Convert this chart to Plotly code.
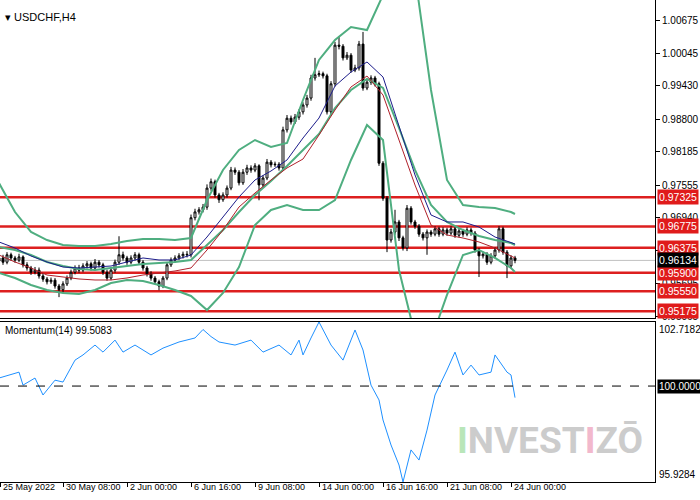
import plotly.graph_objects as go

# USDCHF H4 - bougies (index de barre 0 = 25 May 16:00)
opens = [0.9612, 0.9618, 0.9610, 0.9624, 0.9618, 0.9614, 0.9620, 0.9605, 0.9599, 0.9591,
         0.9595, 0.9584, 0.9578, 0.9573, 0.9576, 0.9565, 0.9558, 0.9569, 0.9580, 0.9591,
         0.9599, 0.9595, 0.9603, 0.9607, 0.9599, 0.9610, 0.9605, 0.9591, 0.9580, 0.9595,
         0.9610, 0.9624, 0.9618, 0.9610, 0.9618, 0.9624, 0.9610, 0.9599, 0.9588, 0.9580,
         0.9573, 0.9565, 0.9580, 0.9605, 0.9614, 0.9618, 0.9622, 0.9625, 0.9624, 0.9694,
         0.9705, 0.9709, 0.9714, 0.9750, 0.9762, 0.9737, 0.9728, 0.9737, 0.9750, 0.9784,
         0.9780, 0.9760, 0.9780, 0.9788, 0.9784, 0.9792, 0.9756, 0.9769, 0.9799, 0.9794,
         0.9795, 0.9788, 0.9860, 0.9882, 0.9875, 0.9884, 0.9894, 0.9907, 0.9920, 0.9958,
         0.9964, 0.9966, 0.9962, 0.9894, 0.9947, 1.0020, 1.0018, 0.9996, 1.0001, 0.9973,
         0.9977, 1.0022, 0.9939, 0.9950, 0.9958, 0.9947, 0.9797, 0.9731, 0.9652, 0.9667,
         0.9686, 0.9656, 0.9637, 0.9712, 0.9686, 0.9678, 0.9663, 0.9656, 0.9667, 0.9663,
         0.9673, 0.9663, 0.9671, 0.9665, 0.9673, 0.9661, 0.9669, 0.9663, 0.9671, 0.9665,
         0.9633, 0.9622, 0.9625, 0.9610, 0.9622, 0.9633, 0.9673, 0.9629, 0.9603, 0.9618]
highs = [0.9623, 0.9624, 0.9629, 0.9628, 0.9622, 0.9626, 0.9623, 0.9610, 0.9603, 0.9601,
         0.9600, 0.9589, 0.9582, 0.9581, 0.9580, 0.9569, 0.9574, 0.9585, 0.9596, 0.9604,
         0.9605, 0.9608, 0.9612, 0.9611, 0.9616, 0.9614, 0.9609, 0.9596, 0.9600, 0.9615,
         0.9659, 0.9630, 0.9622, 0.9623, 0.9629, 0.9628, 0.9614, 0.9603, 0.9593, 0.9584,
         0.9577, 0.9584, 0.9610, 0.9619, 0.9623, 0.9627, 0.9630, 0.9631, 0.9700, 0.9711,
         0.9714, 0.9720, 0.9757, 0.9768, 0.9766, 0.9741, 0.9742, 0.9755, 0.9790, 0.9789,
         0.9784, 0.9786, 0.9794, 0.9793, 0.9797, 0.9795, 0.9774, 0.9805, 0.9803, 0.9800,
         0.9799, 0.9866, 0.9888, 0.9887, 0.9890, 0.9899, 0.9912, 0.9926, 0.9964, 0.9996,
         0.9972, 0.9970, 0.9966, 0.9952, 1.0026, 1.0037, 1.0022, 1.0007, 1.0005, 0.9983,
         1.0028, 1.0045, 0.9955, 0.9963, 0.9962, 0.9951, 0.9801, 0.9735, 0.9673, 0.9709,
         0.9690, 0.9660, 0.9718, 0.9716, 0.9690, 0.9682, 0.9667, 0.9672, 0.9671, 0.9678,
         0.9677, 0.9676, 0.9675, 0.9678, 0.9677, 0.9674, 0.9673, 0.9676, 0.9675, 0.9669,
         0.9637, 0.9630, 0.9629, 0.9627, 0.9638, 0.9678, 0.9677, 0.9633, 0.9623, 0.9622]
lows = [0.9607, 0.9605, 0.9606, 0.9613, 0.9609, 0.9610, 0.9600, 0.9594, 0.9586, 0.9587,
        0.9579, 0.9573, 0.9568, 0.9569, 0.9560, 0.9544, 0.9553, 0.9565, 0.9576, 0.9587,
        0.9590, 0.9591, 0.9598, 0.9594, 0.9595, 0.9600, 0.9586, 0.9575, 0.9576, 0.9590,
        0.9605, 0.9613, 0.9605, 0.9606, 0.9613, 0.9605, 0.9594, 0.9583, 0.9575, 0.9568,
        0.9557, 0.9561, 0.9576, 0.9601, 0.9609, 0.9614, 0.9617, 0.9619, 0.9619, 0.9689,
        0.9700, 0.9704, 0.9709, 0.9745, 0.9732, 0.9722, 0.9724, 0.9732, 0.9746, 0.9775,
        0.9755, 0.9756, 0.9775, 0.9779, 0.9780, 0.9727, 0.9751, 0.9765, 0.9789, 0.9790,
        0.9783, 0.9783, 0.9855, 0.9870, 0.9871, 0.9879, 0.9889, 0.9902, 0.9915, 0.9953,
        0.9960, 0.9957, 0.9889, 0.9890, 0.9942, 1.0012, 0.9991, 0.9992, 0.9968, 0.9969,
        0.9972, 0.9934, 0.9935, 0.9945, 0.9942, 0.9792, 0.9726, 0.9629, 0.9647, 0.9662,
        0.9650, 0.9632, 0.9631, 0.9681, 0.9673, 0.9658, 0.9651, 0.9624, 0.9658, 0.9659,
        0.9658, 0.9659, 0.9660, 0.9661, 0.9656, 0.9657, 0.9658, 0.9659, 0.9660, 0.9628,
        0.9582, 0.9617, 0.9605, 0.9606, 0.9617, 0.9628, 0.9624, 0.9580, 0.9598, 0.9608]
closes = [0.9618, 0.9610, 0.9624, 0.9618, 0.9614, 0.9620, 0.9605, 0.9599, 0.9591, 0.9595,
          0.9584, 0.9578, 0.9573, 0.9576, 0.9565, 0.9558, 0.9569, 0.9580, 0.9591, 0.9599,
          0.9595, 0.9603, 0.9607, 0.9599, 0.9610, 0.9605, 0.9591, 0.9580, 0.9595, 0.9610,
          0.9624, 0.9618, 0.9610, 0.9618, 0.9624, 0.9610, 0.9599, 0.9588, 0.9580, 0.9573,
          0.9565, 0.9580, 0.9605, 0.9614, 0.9618, 0.9622, 0.9625, 0.9624, 0.9694, 0.9705,
          0.9709, 0.9714, 0.9750, 0.9762, 0.9737, 0.9728, 0.9737, 0.9750, 0.9784, 0.9780,
          0.9760, 0.9780, 0.9788, 0.9784, 0.9792, 0.9756, 0.9769, 0.9799, 0.9794, 0.9795,
          0.9788, 0.9860, 0.9882, 0.9875, 0.9884, 0.9894, 0.9907, 0.9920, 0.9958, 0.9964,
          0.9966, 0.9962, 0.9894, 0.9947, 1.0020, 1.0018, 0.9996, 1.0001, 0.9973, 0.9977,
          1.0022, 0.9939, 0.9950, 0.9958, 0.9947, 0.9797, 0.9731, 0.9652, 0.9667, 0.9686,
          0.9656, 0.9637, 0.9712, 0.9686, 0.9678, 0.9663, 0.9656, 0.9667, 0.9663, 0.9673,
          0.9663, 0.9671, 0.9665, 0.9673, 0.9661, 0.9669, 0.9663, 0.9671, 0.9665, 0.9633,
          0.9622, 0.9625, 0.9610, 0.9622, 0.9633, 0.9673, 0.9629, 0.9603, 0.9618, 0.96134]

# indicateurs (une valeur toutes les 4 barres)
ind_idx = [0, 4, 8, 12, 16, 20, 24, 28, 32, 36, 40, 44, 48, 52, 56, 60, 64,
           68, 72, 76, 80, 84, 88, 92, 96, 100, 104, 108, 112, 116, 120, 124, 128, 129]
bb_upper = [0.97596, 0.97048, 0.96671, 0.96519, 0.96425, 0.96406, 0.96406, 0.96444, 0.96501,
            0.96538, 0.96538, 0.96519, 0.96557, 0.97275, 0.97842, 0.98220, 0.98408, 0.98276,
            0.98352, 0.99164, 0.99920, 1.00297, 1.00543, 1.00486, 1.01147, 1.01809, 1.01525,
            0.99353, 0.97653, 0.97181, 0.97143, 0.97124, 0.97048, 0.97011]
bb_mid = [0.96387, 0.96331, 0.96236, 0.96104, 0.96028, 0.95972, 0.95953, 0.95991, 0.96028,
          0.96066, 0.96085, 0.96104, 0.96142, 0.96425, 0.96708, 0.97048, 0.97369, 0.97634,
          0.97917, 0.98220, 0.98522, 0.99013, 0.99353, 0.99561, 0.99391, 0.98635, 0.97842,
          0.97181, 0.96860, 0.96708, 0.96595, 0.96519, 0.96463, 0.96425]
bb_lower = [0.95896, 0.95802, 0.95669, 0.95575, 0.95518, 0.95499, 0.95575, 0.95707, 0.95764,
            0.95745, 0.95669, 0.95575, 0.95462, 0.95197, 0.95518, 0.96009, 0.96803, 0.97086,
            0.97181, 0.97086, 0.97086, 0.97275, 0.98031, 0.98692, 0.98408, 0.95953, 0.94725,
            0.94630, 0.95481, 0.96236, 0.96331, 0.96180, 0.95991, 0.95915]
ma_blue = [0.96482, 0.96368, 0.96217, 0.96104, 0.96009, 0.95991, 0.96009, 0.96028, 0.96104,
           0.96180, 0.96142, 0.96142, 0.96236, 0.96576, 0.96954, 0.97332, 0.97653, 0.97823,
           0.98031, 0.98446, 0.98824, 0.99428, 0.99693, 0.99882, 0.99598, 0.98692, 0.97747,
           0.96992, 0.96860, 0.96860, 0.96765, 0.96576, 0.96482, 0.96444]
ma_red = [0.96236, 0.96104, 0.95991, 0.95858, 0.95821, 0.95783, 0.95764, 0.95764, 0.95802,
          0.95858, 0.95896, 0.95934, 0.95991, 0.96331, 0.96708, 0.97143, 0.97407, 0.97653,
          0.97880, 0.98049, 0.98503, 0.98975, 0.99410, 0.99617, 0.99258, 0.98408, 0.97558,
          0.96803, 0.96614, 0.96557, 0.96482, 0.96368, 0.96217, 0.96180]

# Momentum(14), lu point par point
mom_idx = [0, 5, 6, 9, 11, 14, 16, 19, 21, 24, 26, 29, 31, 34, 38, 41, 45, 49, 51, 53,
           55, 59, 63, 66, 70, 73, 75, 76, 78, 80, 83, 86, 89, 91, 93, 95, 96, 98, 100,
           101, 103, 105, 107, 109, 112, 114, 116, 118, 120, 123, 124, 127, 128, 129]
momentum = [100.34, 100.59, 100.04, 100.34, 99.62, 100.25, 100.17, 101.10, 101.32, 101.74,
            101.44, 101.95, 101.44, 101.74, 101.32, 101.61, 101.87, 102.04, 102.40, 102.10,
            101.87, 101.74, 101.95, 101.44, 101.74, 101.32, 101.95, 101.32, 102.04, 102.7182,
            101.74, 101.10, 102.38, 101.53, 100.04, 99.41, 98.56, 97.50, 96.65, 95.93,
            97.29, 96.86, 98.13, 99.62, 100.68, 101.44, 100.47, 100.89, 100.47, 100.59,
            101.32, 100.59, 100.47, 99.5083]

levels = [0.97325, 0.96775, 0.96375, 0.95900, 0.95550, 0.95175]
last_price = 0.96134
price_ticks = [1.00675, 1.00045, 0.99430, 0.98800, 0.98185, 0.97555, 0.96940, 0.96325, 0.95695, 0.95065]
time_idx = [0.25, 16, 32, 48, 64, 80, 96, 112, 128]
time_labels = ["25 May 2022", "30 May 08:00", "2 Jun 00:00", "6 Jun 16:00", "9 Jun 08:00",
               "14 Jun 00:00", "16 Jun 16:00", "21 Jun 08:00", "24 Jun 00:00"]
mom_min, mom_max = 95.9284, 102.7182

bars = list(range(len(closes)))
FONT = "Liberation Sans, Arial, sans-serif"
XR = 655 / 700  # fin de la zone de tracé
FS = 10

fig = go.Figure()

# bandes de Bollinger (vert) et moyennes mobiles
for serie, couleur, ep in [(bb_upper, "#4fae80", 2), (bb_mid, "#4fae80", 2), (bb_lower, "#4fae80", 2),
                           (ma_red, "#b0202a", 1), (ma_blue, "#1c1c8a", 1)]:
    fig.add_trace(go.Scatter(x=ind_idx, y=serie, mode="lines",
                             line=dict(color=couleur, width=ep), xaxis="x", yaxis="y", hoverinfo="skip"))

fig.add_trace(go.Candlestick(
    x=bars, open=opens, high=highs, low=lows, close=closes,
    increasing=dict(line=dict(color="black", width=1), fillcolor="white"),
    decreasing=dict(line=dict(color="black", width=1), fillcolor="black"),
    whiskerwidth=0, xaxis="x", yaxis="y"))

fig.add_trace(go.Scatter(x=mom_idx, y=momentum, mode="lines",
                         line=dict(color="#1e90ff", width=1), xaxis="x2", yaxis="y2", hoverinfo="skip"))

shapes = []
for lv in levels:
    shapes.append(dict(type="line", xref="paper", yref="y", x0=0, x1=XR, y0=lv, y1=lv,
                       line=dict(color="#dd1f1f", width=2.5), layer="below"))
shapes.append(dict(type="line", xref="paper", yref="y", x0=0, x1=XR, y0=last_price, y1=last_price,
                   line=dict(color="#c0c0c0", width=1), layer="below"))
shapes.append(dict(type="line", xref="paper", yref="y2", x0=0, x1=XR, y0=100, y1=100,
                   line=dict(color="black", width=1, dash="dash")))

annotations = []
for lv in levels:
    annotations.append(dict(x=XR + 2 / 700, y=lv, xref="paper", yref="y", xanchor="left",
                            text=f"{lv:.5f}", showarrow=False, bgcolor="#e01b1b",
                            font=dict(color="white", size=FS + 0.5, family=FONT), borderpad=1))
annotations.append(dict(x=XR + 2 / 700, y=last_price, xref="paper", yref="y", xanchor="left",
                        text=f"{last_price:.5f}", showarrow=False, bgcolor="black",
                        font=dict(color="white", size=FS + 0.5, family=FONT), borderpad=1))
annotations.append(dict(x=XR + 2 / 700, y=100, xref="paper", yref="y2", xanchor="left",
                        text="100.0000", showarrow=False, bgcolor="black",
                        font=dict(color="white", size=FS, family=FONT), borderpad=1))
annotations.append(dict(x=XR + 2 / 700, y=mom_max, xref="paper", yref="y2", xanchor="left", yanchor="top",
                        text=f"{mom_max:.4f}", showarrow=False, font=dict(color="black", size=FS, family=FONT)))
annotations.append(dict(x=XR + 2 / 700, y=mom_min, xref="paper", yref="y2", xanchor="left", yanchor="bottom",
                        text=f"{mom_min:.4f}", showarrow=False, font=dict(color="black", size=FS, family=FONT)))
annotations.append(dict(x=0.004, y=1 - 9 / 500, xref="paper", yref="paper", xanchor="left",
                        text="▾ USDCHF,H4", showarrow=False, font=dict(color="black", size=11, family=FONT)))
annotations.append(dict(x=0.004, y=1 - 330 / 500, xref="paper", yref="paper", xanchor="left",
                        text=f"Momentum(14) {momentum[-1]:.4f}", showarrow=False,
                        font=dict(color="black", size=FS, family=FONT)))
# filigrane
annotations.append(dict(x=550 / 700, y=1 - 440 / 500, xref="paper", yref="paper",
                        xanchor="center", yanchor="middle",
                        text=("<b><span style='color:#b9e6b9'>I</span>NVEST"
                              "<span style='color:#f2b8cc'>I</span>ZŌ</b>"),
                        showarrow=False, font=dict(color="#cccccc", size=37,
                                                   family="Liberation Sans Narrow, Roboto, sans-serif")))

fig.update_layout(
    width=700, height=500,
    margin=dict(l=0, r=0, t=0, b=0),
    paper_bgcolor="white", plot_bgcolor="white",
    showlegend=False,
    shapes=shapes, annotations=annotations,
    font=dict(family=FONT, size=FS, color="black"),
    xaxis=dict(domain=[0, XR], anchor="y", range=[0.25, 164], showticklabels=False,
               showgrid=False, zeroline=False, rangeslider=dict(visible=False),
               showline=True, linecolor="black", linewidth=1, ticks="", fixedrange=True),
    yaxis=dict(domain=[1 - 318 / 500, 1], anchor="x", side="right", range=[0.95046, 1.01053],
               tickvals=price_ticks, ticktext=[f"{v:.5f}" for v in price_ticks],
               ticks="outside", ticklen=4, tickcolor="black", showgrid=False, zeroline=False,
               showline=True, linecolor="black", tickfont=dict(size=FS), automargin=False),
    xaxis2=dict(domain=[0, XR], anchor="y2", matches="x", range=[0.25, 164],
                tickvals=time_idx, ticktext=time_labels, ticks="outside", ticklen=4,
                tickcolor="black", ticklabelposition="outside right", tickangle=0,
                ticklabelstandoff=-4, ticklabelshift=2, showgrid=False,
                zeroline=False, showline=True, linecolor="black", mirror=True,
                tickfont=dict(size=9), automargin=False),
    yaxis2=dict(domain=[1 - 482 / 500, 1 - 322 / 500], anchor="x2", side="right",
                range=[mom_min, mom_max], showticklabels=False, ticks="", showgrid=False,
                zeroline=False, showline=True, linecolor="black", automargin=False),
)

fig.write_html("out.html", config={"displayModeBar": False},
               post_script="document.body.style.margin='0';")
